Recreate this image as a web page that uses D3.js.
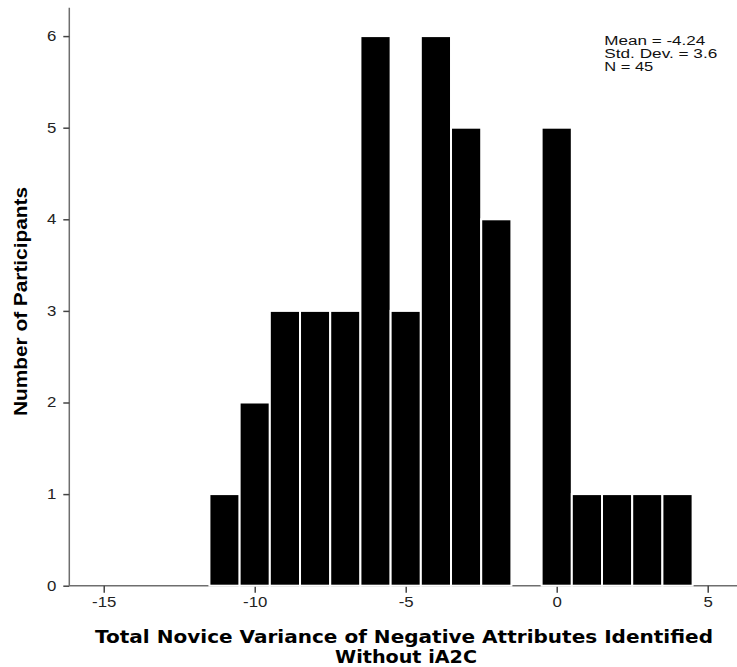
<!DOCTYPE html>
<html>
<head>
<meta charset="utf-8">
<script src="https://cdn.jsdelivr.net/npm/d3@7"></script>
<style>
  html, body { margin: 0; padding: 0; background: #fff; }
  svg { display: block; }
</style>
</head>
<body>
<svg id="chart" width="737" height="667"></svg>
<script>
// Data: histogram bins (width 1, centered on integers)
const binCenters = [-11, -10, -9, -8, -7, -6, -5, -4, -3, -2, -1, 0, 1, 2, 3, 4];
const counts     = [  1,   2,  3,  3,  3,  6,  3,  6,  5,  4,  0, 5, 1, 1, 1, 1];
const xTicks = [-15, -10, -5, 0, 5];
const yTicks = [0, 1, 2, 3, 4, 5, 6];
const statsLines = ["Mean = -4.24", "Std. Dev. = 3.6", "N = 45"];
const xTitleLines = ["Total Novice Variance of Negative Attributes Identified", "Without iA2C"];
const yTitle = "Number of Participants";

const svg = d3.select("#chart");
const x = d3.scaleLinear().domain([-16.14, 5.97]).range([69.3, 737]);
const y = d3.scaleLinear().domain([0, 6.31]).range([585.7, 7.7]);

const axisColor = "#6e6e6e";

// X axis
const gx = svg.append("g")
  .attr("transform", `translate(0,${y(0)})`)
  .call(d3.axisBottom(x).tickValues(xTicks).tickSize(7).tickPadding(4).tickFormat(d3.format("d")));
gx.select(".domain").attr("stroke", axisColor).attr("stroke-width", 1.5).attr("d", `M${x.range()[0]},0H${x.range()[1]}`);
gx.selectAll(".tick line").attr("stroke", "#444").attr("stroke-width", 1.5);
gx.selectAll(".tick text")
  .attr("font-family", "Liberation Sans, Arial, sans-serif")
  .attr("font-size", 14).attr("fill", "#222")
  .attr("transform", "scale(1.2,1)")
  .text(d => d < 0 ? "-" + Math.abs(d) : d);

// Y axis
const gy = svg.append("g")
  .attr("transform", `translate(${x.range()[0]},0)`)
  .call(d3.axisLeft(y).tickValues(yTicks).tickSize(6).tickFormat(d3.format("d")));
gy.select(".domain").attr("stroke", axisColor).attr("stroke-width", 1.5).attr("d", `M0,${y.range()[0]}V${y.range()[1]}`);
gy.selectAll(".tick line").attr("stroke", "#444").attr("stroke-width", 1.5);
gy.selectAll(".tick text")
  .attr("font-family", "Liberation Sans, Arial, sans-serif")
  .attr("font-size", 14).attr("fill", "#222")
  .attr("x", -13 / 1.2)
  .attr("transform", "scale(1.2,1)");

// Bars
const bins = binCenters.map((c, i) => ({ x0: c - 0.5, x1: c + 0.5, n: counts[i] }));
svg.append("g").selectAll("rect")
  .data(bins.filter(d => d.n > 0))
  .join("rect")
  .attr("x", d => x(d.x0))
  .attr("width", d => x(d.x1) - x(d.x0))
  .attr("y", d => y(d.n))
  .attr("height", d => y(0) - y(d.n))
  .attr("fill", "#000")
  .attr("stroke", "#fff")
  .attr("stroke-width", 2);

// Stats text
const statsWidths = [101, 113, 49];
svg.append("g").selectAll("text")
  .data(statsLines)
  .join("text")
  .attr("x", 604.3)
  .attr("y", (d, i) => 44.5 + i * 13.4)
  .attr("font-family", "Liberation Sans, Arial, sans-serif")
  .attr("font-size", 12)
  .attr("fill", "#111")
  .attr("textLength", (d, i) => statsWidths[i])
  .attr("lengthAdjust", "spacingAndGlyphs")
  .text(d => d);

// X title
const xtW = [618, 142];
const xtCx = [404, 406];
const xtY = [643, 663];
svg.append("g").selectAll("text")
  .data(xTitleLines)
  .join("text")
  .attr("x", (d, i) => xtCx[i])
  .attr("y", (d, i) => xtY[i])
  .attr("text-anchor", "middle")
  .attr("font-family", "DejaVu Sans, Verdana, sans-serif")
  .attr("font-weight", "bold")
  .attr("font-size", 17)
  .attr("fill", "#000")
  .attr("textLength", (d, i) => xtW[i])
  .attr("lengthAdjust", "spacingAndGlyphs")
  .text(d => d);

// Y title
svg.append("text")
  .attr("transform", "translate(27,301.5) rotate(-90)")
  .attr("text-anchor", "middle")
  .attr("font-family", "Liberation Sans, Arial, sans-serif")
  .attr("font-weight", "bold")
  .attr("font-size", 19)
  .attr("fill", "#000")
  .attr("textLength", 229)
  .attr("lengthAdjust", "spacingAndGlyphs")
  .text(yTitle);
</script>
</body>
</html>
